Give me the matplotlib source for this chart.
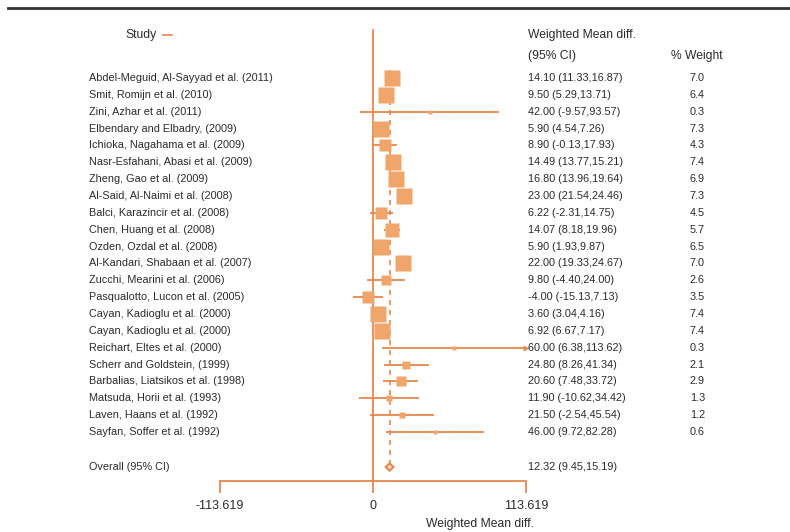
import matplotlib
matplotlib.use("Agg")
import matplotlib.pyplot as plt
from matplotlib.transforms import blended_transform_factory
from matplotlib.lines import Line2D
import numpy as np

plt.rcParams['font.family'] = ['Liberation Sans', 'DejaVu Sans']

studies = [
    "Abdel-Meguid, Al-Sayyad et al. (2011)",
    "Smit, Romijn et al. (2010)",
    "Zini, Azhar et al. (2011)",
    "Elbendary and Elbadry, (2009)",
    "Ichioka, Nagahama et al. (2009)",
    "Nasr-Esfahani, Abasi et al. (2009)",
    "Zheng, Gao et al. (2009)",
    "Al-Said, Al-Naimi et al. (2008)",
    "Balci, Karazincir et al. (2008)",
    "Chen, Huang et al. (2008)",
    "Ozden, Ozdal et al. (2008)",
    "Al-Kandari, Shabaan et al. (2007)",
    "Zucchi, Mearini et al. (2006)",
    "Pasqualotto, Lucon et al. (2005)",
    "Cayan, Kadioglu et al. (2000)",
    "Cayan, Kadioglu et al. (2000)",
    "Reichart, Eltes et al. (2000)",
    "Scherr and Goldstein, (1999)",
    "Barbalias, Liatsikos et al. (1998)",
    "Matsuda, Horii et al. (1993)",
    "Laven, Haans et al. (1992)",
    "Sayfan, Soffer et al. (1992)",
]
wmd = [14.10, 9.50, 42.00, 5.90, 8.90, 14.49, 16.80, 23.00, 6.22, 14.07, 5.90,
       22.00, 9.80, -4.00, 3.60, 6.92, 60.00, 24.80, 20.60, 11.90, 21.50, 46.00]
ci_low = [11.33, 5.29, -9.57, 4.54, -0.13, 13.77, 13.96, 21.54, -2.31, 8.18, 1.93,
          19.33, -4.40, -15.13, 3.04, 6.67, 6.38, 8.26, 7.48, -10.62, -2.54, 9.72]
ci_high = [16.87, 13.71, 93.57, 7.26, 17.93, 15.21, 19.64, 24.46, 14.75, 19.96, 9.87,
           24.67, 24.00, 7.13, 4.16, 7.17, 113.62, 41.34, 33.72, 34.42, 45.54, 82.28]
weights = [7.0, 6.4, 0.3, 7.3, 4.3, 7.4, 6.9, 7.3, 4.5, 5.7, 6.5,
           7.0, 2.6, 3.5, 7.4, 7.4, 0.3, 2.1, 2.9, 1.3, 1.2, 0.6]
overall_label = "Overall (95% CI)"
overall_wmd = 12.32
overall_low = 9.45
overall_high = 15.19
axis_limit = 113.619
tick_values = [-113.619, 0, 113.619]
tick_labels = ["-113.619", "0", "113.619"]

W, H = 790, 532
fig = plt.figure(figsize=(W / 100, H / 100), dpi=100)
ax = fig.add_axes([220 / W, 1 - 481 / H, 306 / W, 451 / H])

row0_px, row_step = 78.0, 16.86
def row_of(px):
    return (px - row0_px) / row_step

ax.set_xlim(-axis_limit, axis_limit)
ax.set_ylim(row_of(481), row_of(30))

sq_col = "#F0A56B"
ln_col = "#E8874C"
txt_col = "#2a2a2a"

n = len(studies)
rows = np.arange(n)
overall_row = row_of(467)

# CI lines
for i in range(n):
    lo = max(ci_low[i], -axis_limit)
    hi = min(ci_high[i], axis_limit)
    ax.plot([lo, hi], [rows[i], rows[i]], color=ln_col, lw=1.3, zorder=2,
            solid_capstyle='butt', clip_on=False)
    if ci_high[i] > axis_limit:
        ax.plot([axis_limit], [rows[i]], marker='>', color=ln_col, ms=5,
                zorder=3, clip_on=False, mec='none')
    if ci_low[i] < -axis_limit:
        ax.plot([-axis_limit], [rows[i]], marker='<', color=ln_col, ms=5,
                zorder=3, clip_on=False, mec='none')

# weighted squares
for i in range(n):
    ax.plot([wmd[i]], [rows[i]], marker='s', ms=4.3 * np.sqrt(weights[i]),
            color=sq_col, mec='none', zorder=3, clip_on=False)

# line of no effect
ax.plot([0, 0], [row_of(30), row_of(481)], color=ln_col, lw=1.3, zorder=1,
        clip_on=False)
# overall dashed line
ax.plot([overall_wmd, overall_wmd], [row_of(70), overall_row], color=ln_col,
        lw=1.2, ls=(0, (3, 3)), zorder=1)
# overall diamond
dh = 0.22
ax.fill([overall_low, overall_wmd, overall_high, overall_wmd],
        [overall_row, overall_row - dh, overall_row, overall_row + dh],
        facecolor="#fbe3d0", edgecolor=ln_col, lw=1.5, zorder=4)

# axes styling
for s in ['top', 'right', 'left']:
    ax.spines[s].set_visible(False)
ax.spines['bottom'].set_color(ln_col)
ax.spines['bottom'].set_linewidth(1.3)
ax.set_yticks([])
ax.set_xticks(tick_values)
ax.set_xticklabels(tick_labels)
ax.tick_params(axis='x', direction='out', length=8.5, width=1.3, color=ln_col,
               labelsize=9, labelcolor=txt_col, pad=5)
ax.patch.set_alpha(0)

# text columns
tr = blended_transform_factory(fig.transFigure, ax.transData)
fs = 7.8
for i in range(n):
    ax.text(89 / W, rows[i], studies[i], transform=tr, fontsize=fs,
            color=txt_col, va='center', ha='left')
    ax.text(528 / W, rows[i], f"{wmd[i]:.2f} ({ci_low[i]:.2f},{ci_high[i]:.2f})",
            transform=tr, fontsize=fs, color=txt_col, va='center', ha='left')
    ax.text(690 / W, rows[i], f"{weights[i]:.1f}", transform=tr, fontsize=fs,
            color=txt_col, va='center', ha='left')
ax.text(89 / W, overall_row, overall_label, transform=tr, fontsize=fs,
        color=txt_col, va='center', ha='left')
ax.text(528 / W, overall_row,
        f"{overall_wmd:.2f} ({overall_low:.2f},{overall_high:.2f})",
        transform=tr, fontsize=fs, color=txt_col, va='center', ha='left')

# headers
hfs = 8.7
fig.text(125 / W, 1 - 35 / H, "Study", fontsize=hfs, color=txt_col,
         va='center', ha='left')
fig.add_artist(Line2D([163 / W, 172 / W], [1 - 35 / H, 1 - 35 / H],
                      color=ln_col, lw=1.2))
fig.text(528 / W, 1 - 35 / H, "Weighted Mean diff.", fontsize=hfs,
         color=txt_col, va='center', ha='left')
fig.text(528 / W, 1 - 56 / H, "(95% CI)", fontsize=hfs, color=txt_col,
         va='center', ha='left')
fig.text(671 / W, 1 - 56 / H, "% Weight", fontsize=hfs, color=txt_col,
         va='center', ha='left')
fig.text(480 / W, 1 - 524 / H, "Weighted Mean diff.", fontsize=hfs,
         color=txt_col, va='center', ha='center')

# top rule
fig.add_artist(Line2D([8 / W, 1.0], [1 - 8 / H, 1 - 8 / H], color="#333333",
                      lw=2.0))

fig.savefig("out.png", dpi=100)
